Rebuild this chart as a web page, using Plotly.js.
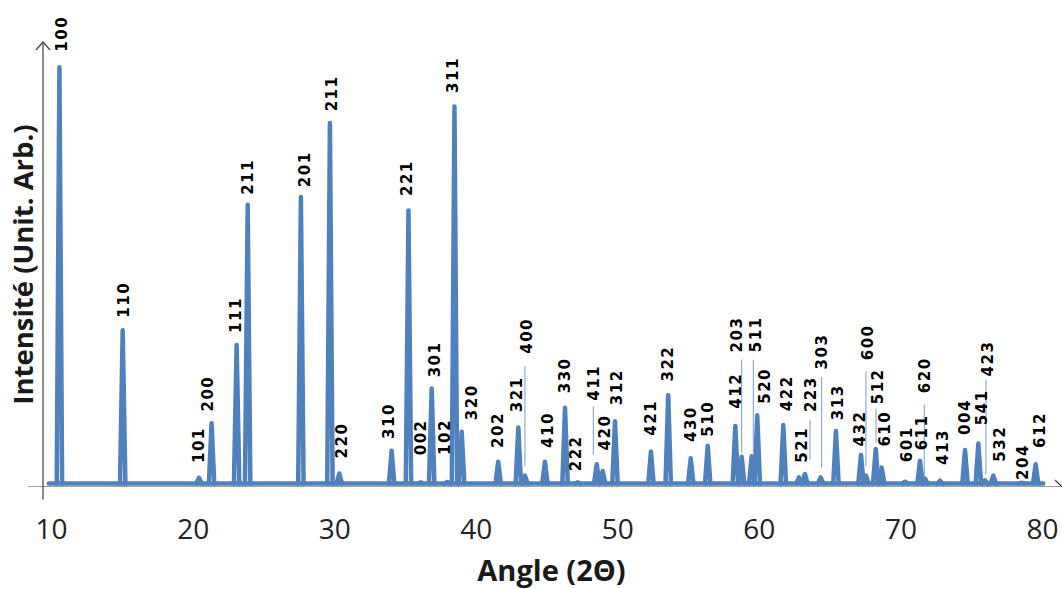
<!DOCTYPE html>
<html><head><meta charset="utf-8">
<script src="https://cdn.plot.ly/plotly-3.0.1.min.js"></script>
<style>
html,body{margin:0;padding:0;background:#fff;}
#chart{width:1062px;height:589px;}
.scatterlayer .js-line{stroke-linejoin:round;stroke-linecap:round;}
.annotation-text{letter-spacing:1.5px;}
</style></head><body><div id="chart"></div>
<script>
// Miller indices of the labelled reflections
const hkl = ["100","110","101","200","111","211","201","211","220","310",
             "221","002","301","102","311","320","202","321","400","410",
             "330","222","411","420","312","421","322","430","510","412",
             "203","511","520","422","521","223","303","313","432","600",
             "512","610","601","611","620","413","004","541","423","532",
             "204","612"];
// peak positions (2θ, degrees)
const twoTheta = [10.55,15.02,20.41,21.30,23.07,23.85,27.61,29.66,30.32,34.02,
                  35.21,36.07,36.85,37.95,38.46,38.97,41.55,42.97,43.44,44.85,
                  46.27,47.16,48.51,48.93,49.80,52.34,53.56,55.15,56.35,58.30,
                  58.75,59.46,59.85,61.69,62.80,63.22,64.33,65.41,67.18,67.53,
                  68.22,68.64,70.29,71.35,71.70,72.76,74.53,75.47,75.94,76.53,
                  78.53,79.52];
// peak intensities (arbitrary units)
const intensity = [99.6,37.2,2.2,15.1,33.7,67.0,68.8,86.4,3.2,8.6,
                   65.6,1.1,23.4,1.2,90.3,13.1,6.0,14.1,2.7,6.0,
                   18.8,1.1,5.4,3.8,15.6,8.4,21.8,6.8,9.8,14.5,
                   7.2,7.3,17.0,14.7,2.3,3.1,2.3,13.3,7.6,2.7,
                   9.0,4.6,1.25,6.2,2.0,1.5,8.8,10.3,1.6,2.7,
                   1.0,5.4];
const background = 0.83;        // baseline level
const scanStart = 9.8, scanEnd = 80.05;
const xTicks = [10,20,30,40,50,60,70,80];

// ---- styling / layout (not data) ----
const peakHalfWidth = 0.19;     // drawn half-width of a peak, degrees
const blue = '#4F81BD';
const axisColor = '#404040';
// label offsets from peak tops, pixels [dx, dy-up]
const labelShift = [[3,34],[1.3,30.5],[-0.7,33],[-3.4,30],[-0.7,30],[0,27.5],[4,27.75],[1.5,30],[3.2,33.5],[-2.7,29.75],
  [-2,33],[0.3,45],[3.3,29],[-2.3,45],[-1,32],[10,29.25],[-0.3,31.75],[-1.6,33],[1.7,139.5],[3,31.75],
  [0,32.5],[-1.7,29],[-2.7,81.5],[3.3,38.5],[1.5,34.5],[0.5,34.25],[-0.3,31.5],[1,34],[0.6,27.25],[1.2,34.75],
  [-5.2,122.75],[4.3,122],[7.7,29.5],[3.4,31.5],[3.5,33],[6.7,79.5],[1.8,126.3],[2,28.75],[-1,26.5],[2,133.25],
  [2.3,62.8],[3.3,39],[1.7,37.2],[1.7,28.25],[0,103.3],[3,33.7],[0,33],[3.4,36],[3,121.75],[6.7,32],
  [1.3,20.8],[4.3,34.2]];
// leader lines: peak index -> [dx, from (px above top), to (px above top)]
const leaders = {18:[0,9.5,109.5],22:[-3.4,9.5,57.8],30:[0,4.25,97.25],31:[1.6,3.5,96.5],35:[5,14.5,54.5],
  36:[1,9.7,100.3],39:[0,9.5,104],40:[0.3,6.2,40.5],44:[-0.7,2.3,74],48:[1,5.75,100.75]};

const xs = [scanStart, scanEnd, null], ys = [background, background, null];
twoTheta.forEach((p, i) => {
  xs.push(p - peakHalfWidth, p, p + peakHalfWidth, null);
  ys.push(background, intensity[i], background, null);
});

const trace = {x: xs, y: ys, type: 'scatter', mode: 'lines',
  line: {color: blue, width: 4.5}, hoverinfo: 'skip', showlegend: false};

const annotations = hkl.map((t, i) => ({
  x: twoTheta[i], y: intensity[i], xref: 'x', yref: 'y', text: t, showarrow: false,
  textangle: -90, xshift: labelShift[i][0], yshift: labelShift[i][1],
  font: {family: 'DejaVu Sans', size: 15, color: '#000', weight: 700}
}));

const shapes = [];
Object.keys(leaders).forEach(k => {
  const i = +k, L = leaders[k];
  shapes.push({type: 'line', xref: 'x', yref: 'y', xsizemode: 'pixel', ysizemode: 'pixel',
    xanchor: twoTheta[i], yanchor: intensity[i], x0: L[0], x1: L[0], y0: L[1], y1: L[2],
    line: {color: '#7a9cd0', width: 1}});
});
// axes (crossing lines with arrow heads)
shapes.push({type: 'line', xref: 'paper', yref: 'y', x0: -0.0147, x1: 1.002, y0: 0, y1: 0,
  line: {color: axisColor, width: 1.2}});
shapes.push({type: 'line', xref: 'paper', yref: 'paper', x0: 0, x1: 0, y0: -0.028, y1: 1,
  line: {color: axisColor, width: 1.2}});
shapes.push({type: 'path', xref: 'paper', yref: 'paper', xsizemode: 'pixel', ysizemode: 'pixel',
  xanchor: 0, yanchor: 1, path: 'M -7,-8 L 0,0 L 7,-8', line: {color: axisColor, width: 1.2}});
shapes.push({type: 'path', xref: 'paper', yref: 'y', xsizemode: 'pixel', ysizemode: 'pixel',
  xanchor: 1.002, yanchor: 0, path: 'M -7,7 L 0,0 L -7,-7', line: {color: axisColor, width: 1.2}});

const layout = {
  width: 1062, height: 589,
  margin: {l: 43, r: 2, t: 42, b: 101.5, pad: 0},
  paper_bgcolor: '#fff', plot_bgcolor: '#fff',
  showlegend: false,
  xaxis: {range: [9.39, 81.24], tickvals: xTicks, ticktext: xTicks.map(String),
    ticks: 'outside', ticklen: 17, tickcolor: 'rgba(0,0,0,0)',
    showline: false, showgrid: false, zeroline: false,
    tickfont: {family: 'Open Sans', size: 28, color: '#222'},
    title: {text: 'Angle (2Θ)', standoff: 21,
      font: {family: 'Open Sans', size: 29, color: '#1a1a1a', weight: 700}}},
  yaxis: {range: [0, 105.6], showticklabels: false, ticks: '',
    showline: false, showgrid: false, zeroline: false,
    title: {text: 'Intensité (Unit. Arb.)', standoff: 0,
      font: {family: 'Open Sans', size: 27.5, color: '#1a1a1a', weight: 700}}},
  annotations: annotations,
  shapes: shapes
};

Plotly.newPlot('chart', [trace], layout, {displayModeBar: false, staticPlot: true});
</script></body></html>
